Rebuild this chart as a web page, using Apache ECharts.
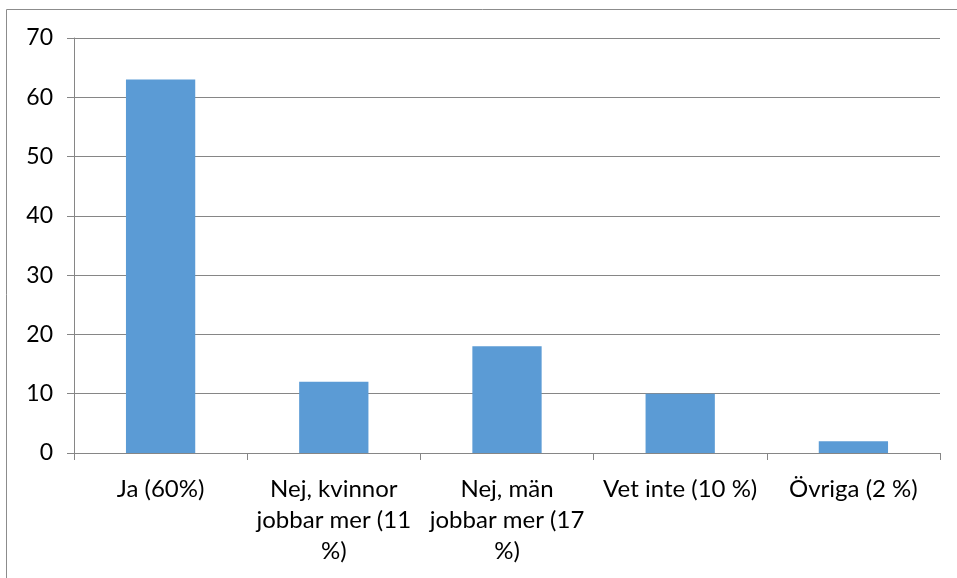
<!DOCTYPE html>
<html>
<head>
<meta charset="utf-8">
<script src="https://cdn.jsdelivr.net/npm/echarts@6/dist/echarts.min.js"></script>
<style>
  html, body { margin: 0; padding: 0; background: #fff; }
  #chart { width: 957px; height: 578px; }
</style>
</head>
<body>
<div id="chart"></div>
<script>
// svarsalternativ och antal svar
const categories = [
  'Ja (60%)',
  'Nej, kvinnor\njobbar mer (11\n%)',
  'Nej, män\njobbar mer (17\n%)',
  'Vet inte (10 %)',
  'Övriga (2 %)'
];
const values = [63, 12, 18, 10, 2];
const yTicks = { min: 0, max: 70, interval: 10 };

const myChart = echarts.init(document.getElementById('chart'));
const font = 'Lato, "Open Sans", sans-serif';

myChart.setOption({
  animation: false,
  textStyle: { fontFamily: font },
  graphic: [
    {
      type: 'rect',
      shape: { x: 6.5, y: 9.5, width: 1000, height: 1000 },
      style: { fill: 'none', stroke: '#8c8c8c', lineWidth: 1 },
      silent: true
    }
  ],
  grid: { left: 74, right: 17, top: 38, bottom: 125, containLabel: false },
  xAxis: {
    type: 'category',
    data: categories,
    axisLine: { lineStyle: { color: '#868686', width: 1 } },
    axisTick: { show: true, alignWithLabel: false, length: 7, lineStyle: { color: '#868686' } },
    axisLabel: {
      color: '#000',
      fontSize: 24,
      fontFamily: font,
      margin: 21,
      lineHeight: 31,
      interval: 0
    }
  },
  yAxis: {
    type: 'value',
    min: yTicks.min,
    max: yTicks.max,
    interval: yTicks.interval,
    axisLine: { show: true, lineStyle: { color: '#868686', width: 1 } },
    axisTick: { show: true, length: 7, lineStyle: { color: '#868686' } },
    axisLabel: { color: '#000', fontSize: 23, fontFamily: font, margin: 21 },
    splitLine: { show: true, lineStyle: { color: '#868686', width: 1 } }
  },
  series: [
    {
      type: 'bar',
      data: values,
      barCategoryGap: '60%',
      itemStyle: { color: '#5b9bd5' }
    }
  ]
});
window.onresize = () => myChart.resize();
</script>
</body>
</html>
